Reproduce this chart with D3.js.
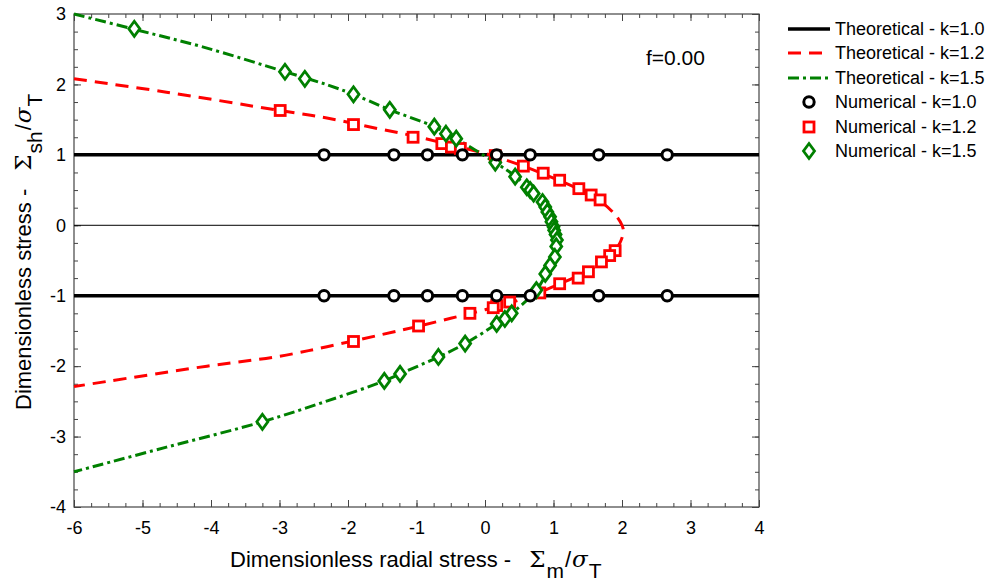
<!DOCTYPE html>
<html>
<head>
<meta charset="utf-8">
<script src="https://cdn.jsdelivr.net/npm/d3@7"></script>
<style>
body { margin: 0; background: #fff; }
</style>
</head>
<body>
<script>
// axis ticks
const xTicks = [-6, -5, -4, -3, -2, -1, 0, 1, 2, 3, 4];
const yTicks = [-4, -3, -2, -1, 0, 1, 2, 3];

// theoretical curves [x, y]
const theoK10Top = [[-6, 1], [4, 1]];
const theoK10Bot = [[-6, -1], [4, -1]];
const theoK12 = [[-6, 2.08], [-4.65, 1.89], [-3, 1.63], [-2.29, 1.52], [-1.5, 1.36], [-1, 1.26], [-0.5, 1.14],
  [0, 1.02], [0.5, 0.86], [1.0, 0.67], [1.5, 0.45], [1.7, 0.33], [1.9, 0.15], [2.0, 0.0], [2.02, -0.09],
  [1.97, -0.25], [1.88, -0.38], [1.7, -0.53], [1.5, -0.65], [1.0, -0.87], [0.5, -1.06], [0, -1.2],
  [-0.5, -1.32], [-1, -1.44], [-1.5, -1.55], [-2.29, -1.72], [-3, -1.86], [-4.06, -2.0], [-6, -2.29]];
const theoK15 = [[-6, 3.0], [-5.11, 2.78], [-4.11, 2.53], [-2.92, 2.18], [-2.29, 1.99], [-1.92, 1.86],
  [-1.39, 1.64], [-0.74, 1.40], [-0.42, 1.23], [0.15, 0.89], [0.45, 0.69], [0.72, 0.44], [0.88, 0.26],
  [0.95, 0.12], [1.0, -0.02], [1.04, -0.15], [1.05, -0.25], [1.02, -0.45], [0.92, -0.64], [0.75, -0.92],
  [0.39, -1.25], [0.17, -1.40], [-0.29, -1.68], [-0.68, -1.87], [-1.24, -2.11], [-1.47, -2.21],
  [-2.29, -2.49], [-3.25, -2.79], [-4.65, -3.15], [-6, -3.5]];

// numerical results [x, y]
const numK10 = [[-2.35, 1], [-1.33, 1], [-0.84, 1], [-0.33, 1], [0.17, 1], [0.66, 1], [1.66, 1], [2.66, 1],
  [-2.35, -1], [-1.33, -1], [-0.84, -1], [-0.33, -1], [0.17, -1], [0.66, -1], [1.66, -1], [2.66, -1]];
const numK12 = [[-2.99, 1.63], [-1.92, 1.43], [-1.05, 1.25], [-0.63, 1.16], [-0.49, 1.11], [-0.36, 1.09],
  [0.15, 0.99], [0.56, 0.84], [0.85, 0.74], [1.09, 0.64], [1.37, 0.52], [1.55, 0.43], [1.68, 0.36],
  [1.90, -0.36], [1.82, -0.43], [1.70, -0.52], [1.51, -0.66], [1.36, -0.75], [1.09, -0.83], [0.80, -0.96],
  [0.36, -1.09], [0.17, -1.14], [0.12, -1.17], [-0.22, -1.25], [-0.97, -1.43], [-1.92, -1.65]];
const numK15 = [[-5.12, 2.79], [-2.92, 2.18], [-2.63, 2.08], [-1.92, 1.86], [-1.39, 1.64], [-0.74, 1.40],
  [-0.57, 1.30], [-0.42, 1.23], [0.15, 0.89], [0.44, 0.69], [0.61, 0.54], [0.66, 0.50], [0.71, 0.45],
  [0.84, 0.33], [0.88, 0.26], [0.91, 0.19], [0.95, 0.12], [0.97, 0.05], [1.0, -0.02], [1.01, -0.07],
  [1.03, -0.13], [1.05, -0.21], [1.04, -0.30], [1.02, -0.45], [0.95, -0.57], [0.88, -0.69], [0.75, -0.92],
  [0.39, -1.25], [0.29, -1.33], [0.17, -1.40], [-0.29, -1.68], [-0.68, -1.87], [-1.24, -2.11],
  [-1.47, -2.21], [-3.25, -2.79]];

const legendLabels = ["Theoretical - k=1.0", "Theoretical - k=1.2", "Theoretical - k=1.5",
  "Numerical - k=1.0", "Numerical - k=1.2", "Numerical - k=1.5"];

let width = 990, height = 585;
let margin = {left: 74, top: 14, right: 231, bottom: 78};

let svg = d3.select("body").append("svg")
  .attr("width", width)
  .attr("height", height)
  .attr("font-family", "'Liberation Sans', Arial, sans-serif");

let x = d3.scaleLinear().domain([-6, 4]).range([margin.left, width - margin.right]);
let y = d3.scaleLinear().domain([-4, 3]).range([height - margin.bottom, margin.top]);

let line = d3.line()
  .x(d => x(d[0]))
  .y(d => y(d[1]))
  .curve(d3.curveCatmullRom.alpha(0.5));

let minor = d3.range(-6, 4.01, 0.25);
let minorY = d3.range(-4, 3.01, 0.25);
let plain = d => String(d);

function styleAxis(g) {
  g.select(".domain").remove();
  g.selectAll(".tick line").attr("stroke", "#444");
  g.selectAll("text").attr("font-size", 18).attr("fill", "#000");
}

// minor ticks
svg.append("g").attr("transform", `translate(0,${y(-4)})`)
  .call(d3.axisBottom(x).tickValues(minor).tickSize(-4).tickFormat("")).call(styleAxis);
svg.append("g").attr("transform", `translate(0,${y(3)})`)
  .call(d3.axisTop(x).tickValues(minor).tickSize(-4).tickFormat("")).call(styleAxis);
svg.append("g").attr("transform", `translate(${x(-6)},0)`)
  .call(d3.axisLeft(y).tickValues(minorY).tickSize(-4).tickFormat("")).call(styleAxis);
svg.append("g").attr("transform", `translate(${x(4)},0)`)
  .call(d3.axisRight(y).tickValues(minorY).tickSize(-4).tickFormat("")).call(styleAxis);

// major ticks
svg.append("g").attr("transform", `translate(0,${y(-4)})`)
  .call(d3.axisBottom(x).tickValues(xTicks).tickSize(-7).tickPadding(14).tickFormat(plain))
  .call(styleAxis);
svg.append("g").attr("transform", `translate(0,${y(3)})`)
  .call(d3.axisTop(x).tickValues(xTicks).tickSize(-7).tickFormat("")).call(styleAxis);
svg.append("g").attr("transform", `translate(${x(-6)},0)`)
  .call(d3.axisLeft(y).tickValues(yTicks).tickSize(-7).tickPadding(8).tickFormat(plain))
  .call(styleAxis);
svg.append("g").attr("transform", `translate(${x(4)},0)`)
  .call(d3.axisRight(y).tickValues(yTicks).tickSize(-7).tickFormat("")).call(styleAxis);

// frame
svg.append("rect")
  .attr("x", x(-6)).attr("y", y(3))
  .attr("width", x(4) - x(-6)).attr("height", y(-4) - y(3))
  .attr("fill", "none").attr("stroke", "#444").attr("stroke-width", 1.2);

// zero line
svg.append("line")
  .attr("x1", x(-6)).attr("x2", x(4)).attr("y1", y(0)).attr("y2", y(0))
  .attr("stroke", "#000").attr("stroke-width", 1);

let plot = svg.append("g");

// theoretical
[theoK10Top, theoK10Bot].forEach(d => {
  plot.append("path").datum(d).attr("d", line)
    .attr("fill", "none").attr("stroke", "#000").attr("stroke-width", 3.5);
});
plot.append("path").datum(theoK12).attr("d", line)
  .attr("fill", "none").attr("stroke", "#ff0000").attr("stroke-width", 3)
  .attr("stroke-dasharray", "13,8");
plot.append("path").datum(theoK15).attr("d", line)
  .attr("fill", "none").attr("stroke", "#008000").attr("stroke-width", 3)
  .attr("stroke-dasharray", "11,4,3,4");

let diamond = "M0,-7.5L5.5,0L0,7.5L-5.5,0Z";

// numerical
plot.selectAll(".sq").data(numK12).enter().append("rect")
  .attr("class", "sq")
  .attr("x", d => x(d[0]) - 5).attr("y", d => y(d[1]) - 5)
  .attr("width", 10).attr("height", 10)
  .attr("fill", "#fff").attr("stroke", "#ff0000").attr("stroke-width", 2.8);

plot.selectAll(".dm").data(numK15).enter().append("path")
  .attr("class", "dm")
  .attr("transform", d => `translate(${x(d[0])},${y(d[1])})`)
  .attr("d", diamond)
  .attr("fill", "#fff").attr("stroke", "#008000").attr("stroke-width", 2.8);

plot.selectAll(".ci").data(numK10).enter().append("circle")
  .attr("class", "ci")
  .attr("cx", d => x(d[0])).attr("cy", d => y(d[1]))
  .attr("r", 5.2)
  .attr("fill", "#fff").attr("stroke", "#000").attr("stroke-width", 3);

// annotation
svg.append("text")
  .attr("x", 646).attr("y", 65)
  .attr("font-size", 21)
  .text("f=0.00");

// axis title with Sigma / sigma ratio
function ratioTitle(t, label, sub) {
  t.append("tspan").text(label);
  t.append("tspan").attr("dx", 18).attr("font-family", "'DejaVu Serif', serif").attr("font-size", 23).text("\u03A3");
  t.append("tspan").attr("dx", 1).attr("dy", 11).attr("font-size", 21).text(sub);
  t.append("tspan").attr("dx", 1).attr("dy", -11).text("/");
  t.append("tspan").attr("dx", 1).attr("font-family", "'DejaVu Serif', serif").attr("font-style", "italic")
    .attr("font-size", 23).text("\u03C3");
  t.append("tspan").attr("dx", 1).attr("dy", 11).attr("font-size", 21).text("T");
}

let xt = svg.append("text")
  .attr("x", 230).attr("y", 567)
  .attr("font-size", 22);
ratioTitle(xt, "Dimensionless radial stress -", "m");

let yt = svg.append("text")
  .attr("transform", "translate(31,410) rotate(-90)")
  .attr("font-size", 22);
ratioTitle(yt, "Dimensionless stress -", "sh");

// legend
let leg = svg.append("g").attr("transform", "translate(788,0)");
let rowY = [29, 53, 78, 102, 127, 151];
leg.selectAll("text").data(legendLabels).enter().append("text")
  .attr("x", 47).attr("y", (d, i) => rowY[i])
  .attr("dy", "0.35em")
  .attr("font-size", 18)
  .text(d => d);

leg.append("line").attr("x1", 0).attr("x2", 42).attr("y1", rowY[0]).attr("y2", rowY[0])
  .attr("stroke", "#000").attr("stroke-width", 3.5);
leg.append("line").attr("x1", 0).attr("x2", 42).attr("y1", rowY[1]).attr("y2", rowY[1])
  .attr("stroke", "#ff0000").attr("stroke-width", 3).attr("stroke-dasharray", "13,8");
leg.append("line").attr("x1", 0).attr("x2", 42).attr("y1", rowY[2]).attr("y2", rowY[2])
  .attr("stroke", "#008000").attr("stroke-width", 3).attr("stroke-dasharray", "11,4,3,4");
leg.append("circle").attr("cx", 21).attr("cy", rowY[3]).attr("r", 5.2)
  .attr("fill", "#fff").attr("stroke", "#000").attr("stroke-width", 3);
leg.append("rect").attr("x", 16).attr("y", rowY[4] - 5).attr("width", 10).attr("height", 10)
  .attr("fill", "#fff").attr("stroke", "#ff0000").attr("stroke-width", 2.8);
leg.append("path").attr("transform", `translate(21,${rowY[5]})`).attr("d", diamond)
  .attr("fill", "#fff").attr("stroke", "#008000").attr("stroke-width", 2.8);
</script>
</body>
</html>
